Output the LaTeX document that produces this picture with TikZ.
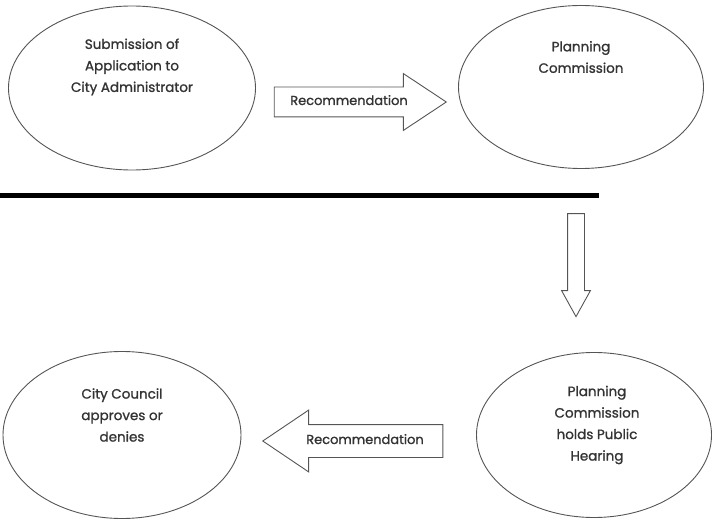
\documentclass[tikz,border=0pt]{standalone}
\usepackage{fontspec}
\setmainfont{Poppins}[FakeBold=1.2]
\usetikzlibrary{shapes.geometric,shapes.arrows,positioning}

\definecolor{inkgray}{HTML}{333333}
\definecolor{linegray}{HTML}{555555}

\tikzset{
  stage/.style={draw=linegray,line width=0.9pt,ellipse},
  stagetext/.style={align=center,text=inkgray,font=\fontsize{13.5}{21.5}\selectfont},
  blockarrow/.style={draw=linegray,line width=0.9pt,single arrow,text=inkgray,
    font=\fontsize{13}{14}\selectfont,inner xsep=4pt}
}

\begin{document}
\begin{tikzpicture}[x=1pt,y=-1pt]
\useasboundingbox (0,0) rectangle (712,521);
% the four stages
\node[stage,minimum width=247pt,minimum height=164pt] (submit) at (132,88) {};
\node[stage,minimum width=245pt,minimum height=163pt] (commission) at (581,87) {};
\node[stage,minimum width=238pt,minimum height=167pt] (council) at (122,435) {};
\node[stage,minimum width=235pt,minimum height=165pt] (hearing) at (594,435) {};
\node[stagetext] (submittxt) at (132,67) {Submission of\\Application to\\City Administrator};
\node[stagetext] (commissiontxt) at (581,57) {Planning\\Commission};
\node[stagetext] (counciltxt) at (122,415) {City Council\\approves or\\denies};
\node[stagetext] (hearingtxt) at (597,425) {Planning\\Commission\\holds Public\\Hearing};
% block arrows
\node[blockarrow,minimum height=172pt,text height=8pt,text depth=2pt,inner ysep=9.5pt,
  single arrow head extend=13.5pt,single arrow tip angle=67] (recright) at (349,102) {Recommendation};
\node[blockarrow,minimum height=180pt,text height=8pt,text depth=2pt,inner ysep=11pt,
  single arrow head extend=14.5pt,single arrow tip angle=68,shape border rotate=180] (recleft) at (365,441) {Recommendation};
\node[blockarrow,rotate=-90,minimum height=103pt,inner ysep=8pt,inner xsep=0pt,
  single arrow head extend=6pt,single arrow tip angle=58] (down) at (576,257.5) {};
% divider
\fill (0,193) rectangle (599,198);
\end{tikzpicture}
\end{document}
